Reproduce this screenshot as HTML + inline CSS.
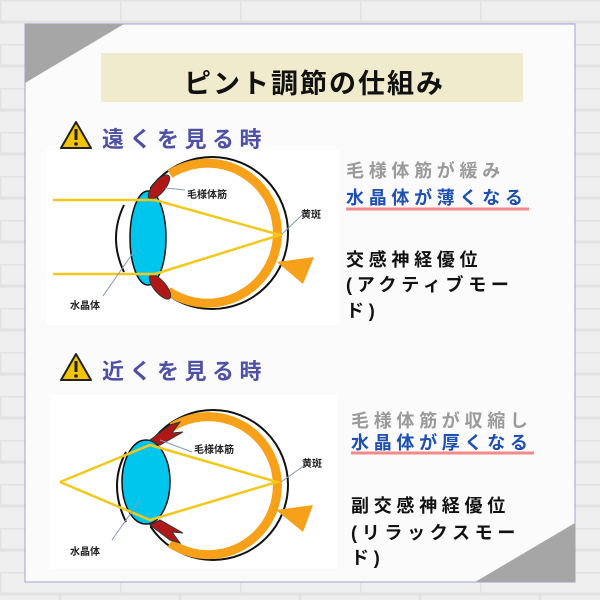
<!DOCTYPE html>
<html><head><meta charset="utf-8"><style>
body{margin:0;width:600px;height:600px;overflow:hidden;background:#eeeeee;font-family:"Liberation Sans","Noto Sans CJK JP",sans-serif;}
.t{position:absolute;white-space:nowrap;font-weight:bold;}
.r{font-size:18px;letter-spacing:4.7px;}
</style></head><body>
<svg width="600" height="600" style="position:absolute;left:0;top:0">
<defs><pattern id="br" width="120" height="44" patternUnits="userSpaceOnUse">
<rect width="120" height="44" fill="#efefef"/>
<path d="M0 0H120M0 22H120M0 0V22M60 22V44" stroke="#e2e2e2" stroke-width="3"/></pattern></defs>
<rect width="600" height="600" fill="url(#br)"/>
<rect x="25" y="24" width="550" height="558" fill="#fbfbfc" stroke="#a0a0d8" stroke-width="1"/>
<polygon points="25,24 124,24 25,83" fill="#a6a6a6"/>
<polygon points="575,523 575,582 475,582" fill="#a6a6a6"/>
<rect x="101" y="53" width="422" height="49" fill="#efebcc"/>
<g><polygon points="76,122 91,148 61,148" fill="#f5c400" stroke="#222" stroke-width="2" stroke-linejoin="round"/><rect x="74.5" y="129" width="3" height="11" fill="#222"/><circle cx="76" cy="144" r="1.8" fill="#222"/></g>
<g><polygon points="76,354 91,380 61,380" fill="#f5c400" stroke="#222" stroke-width="2" stroke-linejoin="round"/><rect x="74.5" y="361" width="3" height="11" fill="#222"/><circle cx="76" cy="376" r="1.8" fill="#222"/></g>
<!-- eye 1 -->
<rect x="46" y="150" width="293" height="175" fill="#fff"/>
<circle cx="212" cy="233" r="76" fill="none" stroke="#111" stroke-width="2"/>
<rect x="100" y="180" width="50" height="110" fill="#fff"/>
<path d="M124 205 Q108 238 124 272" fill="none" stroke="#111" stroke-width="2"/>
<path d="M170 174 A70 70 0 1 1 168 291" fill="none" stroke="#f7a11a" stroke-width="9"/>
<polygon points="277,262 314,257 303,284" fill="#f7a11a"/>
<ellipse cx="148" cy="238" rx="18" ry="47" fill="#00c6ee" stroke="#111" stroke-width="1.5"/>
<ellipse cx="159" cy="187" rx="15" ry="6" transform="rotate(-50 159 187)" fill="#b01818" stroke="#333"/>
<ellipse cx="160" cy="287" rx="15" ry="6" transform="rotate(50 160 287)" fill="#b01818" stroke="#333"/>
<polyline points="53,200 155,200 280,235 155,274 53,274" fill="none" stroke="#f3c81a" stroke-width="2.5"/>
<path d="M185 190 L165 188 M303 214 L282 234 M103 296 L135 250" stroke="#8898b8" stroke-width="1"/>
<!-- eye 2 -->
<rect x="50" y="395" width="287" height="174" fill="#fff"/>
<circle cx="213" cy="485" r="75" fill="none" stroke="#111" stroke-width="2"/>
<rect x="100" y="430" width="50" height="110" fill="#fff"/>
<path d="M126 452 Q108 485 126 522" fill="none" stroke="#111" stroke-width="2"/>
<path d="M172 427 A69 69 0 1 1 170 543" fill="none" stroke="#f7a11a" stroke-width="9"/>
<polygon points="276,510 313,505 303,532" fill="#f7a11a"/>
<ellipse cx="146" cy="482" rx="24" ry="42" fill="#00c6ee" stroke="#111" stroke-width="1.5"/>
<polygon points="150,440 170,425 180,422 172,433 183,432 160,445" fill="#b01818" stroke="#333"/>
<polygon points="150,525 170,540 180,543 172,532 183,533 160,520" fill="#b01818" stroke="#333"/>
<polyline points="60,482 150,445 277,482 150,520 60,482" fill="none" stroke="#f3c81a" stroke-width="2.5"/>
<path d="M192 452 L160 440 M305 465 L281 482 M112 540 L140 500" stroke="#8898b8" stroke-width="1"/>
<line x1="346" y1="209" x2="529" y2="209" stroke="#f28a8a" stroke-width="3"/>
<line x1="351" y1="453" x2="534" y2="453" stroke="#f28a8a" stroke-width="3"/>
</svg>
<div class="t" style="left:184px;top:62px;font-size:27px;letter-spacing:2px;color:#111">ピント調節の仕組み</div>
<div class="t" style="left:102px;top:122px;font-size:22px;letter-spacing:5.5px;color:#4d50a4">遠くを見る時</div>
<div class="t" style="left:102px;top:354px;font-size:22px;letter-spacing:5.5px;color:#4d50a4">近くを見る時</div>
<div class="t" style="left:187px;top:186px;font-size:10px;color:#222">毛様体筋</div>
<div class="t" style="left:301px;top:206px;font-size:10px;color:#222">黄斑</div>
<div class="t" style="left:70px;top:297px;font-size:10px;color:#222">水晶体</div>
<div class="t" style="left:194px;top:441px;font-size:10px;color:#222">毛様体筋</div>
<div class="t" style="left:302px;top:455px;font-size:10px;color:#222">黄斑</div>
<div class="t" style="left:70px;top:543px;font-size:10px;color:#222">水晶体</div>
<div class="t r" style="left:346px;top:157px;color:#9a9a9a">毛様体筋が緩み</div>
<div class="t r" style="left:346px;top:184px;color:#1e50b4">水晶体が薄くなる</div>
<div class="t r" style="left:346px;top:246px;color:#111">交感神経優位</div>
<div class="t r" style="left:346px;top:271px;color:#111">(アクティブモー</div>
<div class="t r" style="left:346px;top:297px;color:#111">ド)</div>
<div class="t r" style="left:351px;top:407px;color:#9a9a9a">毛様体筋が収縮し</div>
<div class="t r" style="left:351px;top:429px;color:#1e50b4">水晶体が厚くなる</div>
<div class="t r" style="left:351px;top:492px;color:#111">副交感神経優位</div>
<div class="t r" style="left:351px;top:519px;color:#111">(リラックスモー</div>
<div class="t r" style="left:351px;top:544px;color:#111">ド)</div>
</body></html>
